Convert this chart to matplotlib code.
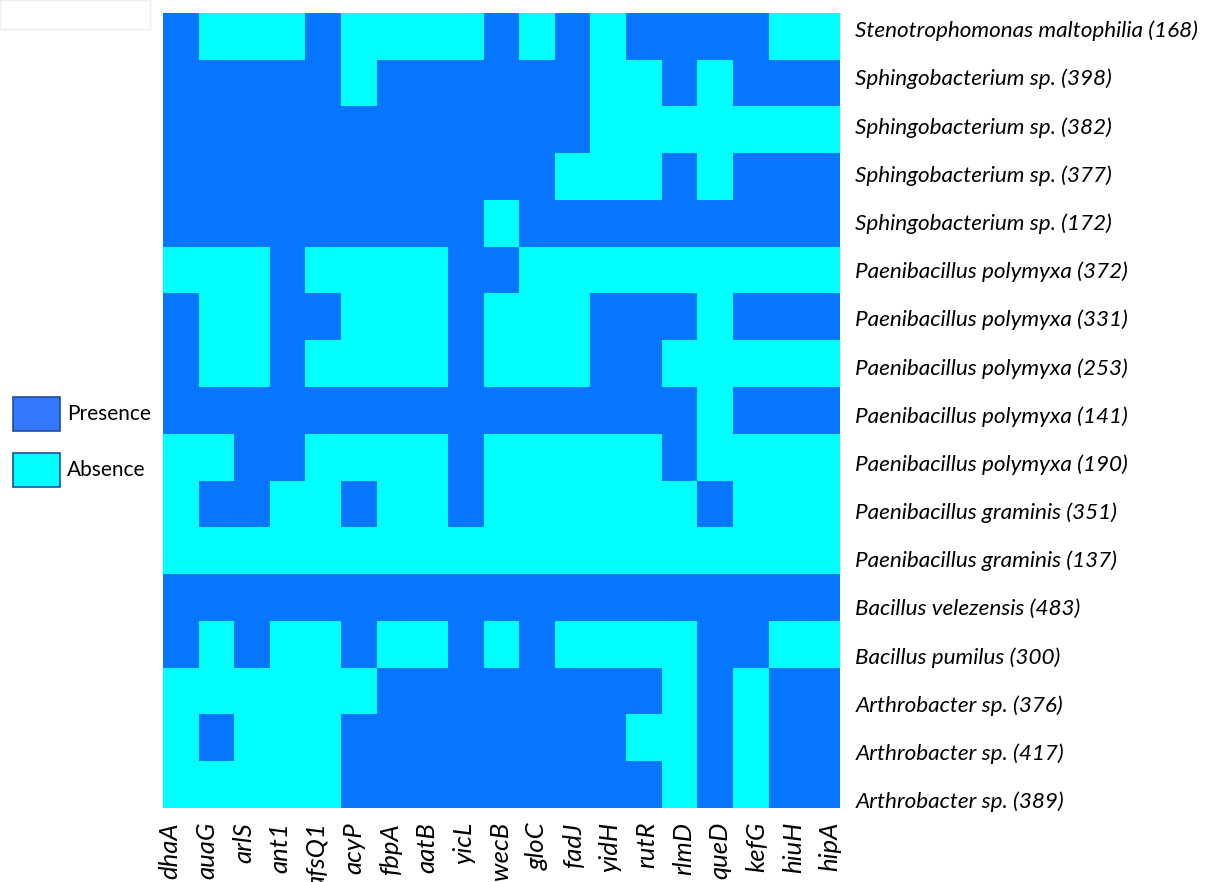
import numpy as np
import matplotlib
matplotlib.use("Agg")
import matplotlib.pyplot as plt
from matplotlib.colors import ListedColormap
from matplotlib.patches import Rectangle

genes = ["dhaA", "auaG", "arlS", "ant1", "afsQ1", "acyP", "fbpA", "aatB", "yicL",
         "wecB", "gloC", "fadJ", "yidH", "rutR", "rlmD", "queD", "kefG", "hiuH", "hipA"]

strains = ["Stenotrophomonas maltophilia (168)",
           "Sphingobacterium sp. (398)",
           "Sphingobacterium sp. (382)",
           "Sphingobacterium sp. (377)",
           "Sphingobacterium sp. (172)",
           "Paenibacillus polymyxa (372)",
           "Paenibacillus polymyxa (331)",
           "Paenibacillus polymyxa (253)",
           "Paenibacillus polymyxa (141)",
           "Paenibacillus polymyxa (190)",
           "Paenibacillus graminis (351)",
           "Paenibacillus graminis (137)",
           "Bacillus velezensis (483)",
           "Bacillus pumilus (300)",
           "Arthrobacter sp. (376)",
           "Arthrobacter sp. (417)",
           "Arthrobacter sp. (389)"]

# 1 = presence, 0 = absence
presence = [
    [1, 0, 0, 0, 1, 0, 0, 0, 0, 1, 0, 1, 0, 1, 1, 1, 1, 0, 0],
    [1, 1, 1, 1, 1, 0, 1, 1, 1, 1, 1, 1, 0, 0, 1, 0, 1, 1, 1],
    [1, 1, 1, 1, 1, 1, 1, 1, 1, 1, 1, 1, 0, 0, 0, 0, 0, 0, 0],
    [1, 1, 1, 1, 1, 1, 1, 1, 1, 1, 1, 0, 0, 0, 1, 0, 1, 1, 1],
    [1, 1, 1, 1, 1, 1, 1, 1, 1, 0, 1, 1, 1, 1, 1, 1, 1, 1, 1],
    [0, 0, 0, 1, 0, 0, 0, 0, 1, 1, 0, 0, 0, 0, 0, 0, 0, 0, 0],
    [1, 0, 0, 1, 1, 0, 0, 0, 1, 0, 0, 0, 1, 1, 1, 0, 1, 1, 1],
    [1, 0, 0, 1, 0, 0, 0, 0, 1, 0, 0, 0, 1, 1, 0, 0, 0, 0, 0],
    [1, 1, 1, 1, 1, 1, 1, 1, 1, 1, 1, 1, 1, 1, 1, 0, 1, 1, 1],
    [0, 0, 1, 1, 0, 0, 0, 0, 1, 0, 0, 0, 0, 0, 1, 0, 0, 0, 0],
    [0, 1, 1, 0, 0, 1, 0, 0, 1, 0, 0, 0, 0, 0, 0, 1, 0, 0, 0],
    [0, 0, 0, 0, 0, 0, 0, 0, 0, 0, 0, 0, 0, 0, 0, 0, 0, 0, 0],
    [1, 1, 1, 1, 1, 1, 1, 1, 1, 1, 1, 1, 1, 1, 1, 1, 1, 1, 1],
    [1, 0, 1, 0, 0, 1, 0, 0, 1, 0, 1, 0, 0, 0, 0, 1, 1, 0, 0],
    [0, 0, 0, 0, 0, 0, 1, 1, 1, 1, 1, 1, 1, 1, 0, 1, 0, 1, 1],
    [0, 1, 0, 0, 0, 1, 1, 1, 1, 1, 1, 1, 1, 0, 0, 1, 0, 1, 1],
    [0, 0, 0, 0, 0, 1, 1, 1, 1, 1, 1, 1, 1, 1, 0, 1, 0, 1, 1],
]

legend_labels = ["Presence", "Absence"]

col_absent = "#00FFFF"
col_present = "#0776FF"

plt.rcParams['font.family'] = ['Lato', 'DejaVu Sans']

fig = plt.figure(figsize=(12.14, 8.82), dpi=100)
W, H = 1214, 882
ax = fig.add_axes([163 / W, 1 - 808 / H, (840 - 163) / W, (808 - 13) / H])

data = np.array(presence)
cmap = ListedColormap([col_absent, col_present])
ax.imshow(data, cmap=cmap, vmin=0, vmax=1, aspect='auto', interpolation='nearest')

# labels in the original are spaced a little wider than the cells
ax.set_xticks(np.linspace(-0.3, len(genes) - 0.78, len(genes)))
ax.set_xticklabels(genes, rotation=90, fontsize=18.5, style='italic', va='top')
ax.set_yticks(np.linspace(-0.16, len(strains) - 0.67, len(strains)))
ax.set_yticklabels(strains, fontsize=16.2, style='italic')
ax.set_xlim(-0.5, len(genes) - 0.5)
ax.set_ylim(len(strains) - 0.5, -0.5)
ax.yaxis.tick_right()
ax.tick_params(axis='both', length=0)
ax.tick_params(axis='y', pad=11)
ax.tick_params(axis='x', pad=10)
for s in ax.spines.values():
    s.set_visible(False)

# legend drawn by hand on the left
leg_face = ["#3377FF", col_absent]
leg_y = [397, 453]
for lab, fc, y0 in zip(legend_labels, leg_face, leg_y):
    fig.patches.append(Rectangle((13 / W, 1 - (y0 + 34) / H), 47 / W, 34 / H,
                                 transform=fig.transFigure, facecolor=fc,
                                 edgecolor="#1F4E9A", linewidth=1.2))
    fig.text(67 / W, 1 - (y0 + 17) / H, lab, fontsize=15, va='center', ha='left')

# faint box in the top-left corner
fig.patches.append(Rectangle((0, 1 - 29 / H), 150 / W, 29 / H, transform=fig.transFigure,
                             facecolor='none', edgecolor='#EEEEEE', linewidth=1))

fig.savefig("out.png", dpi=100)
